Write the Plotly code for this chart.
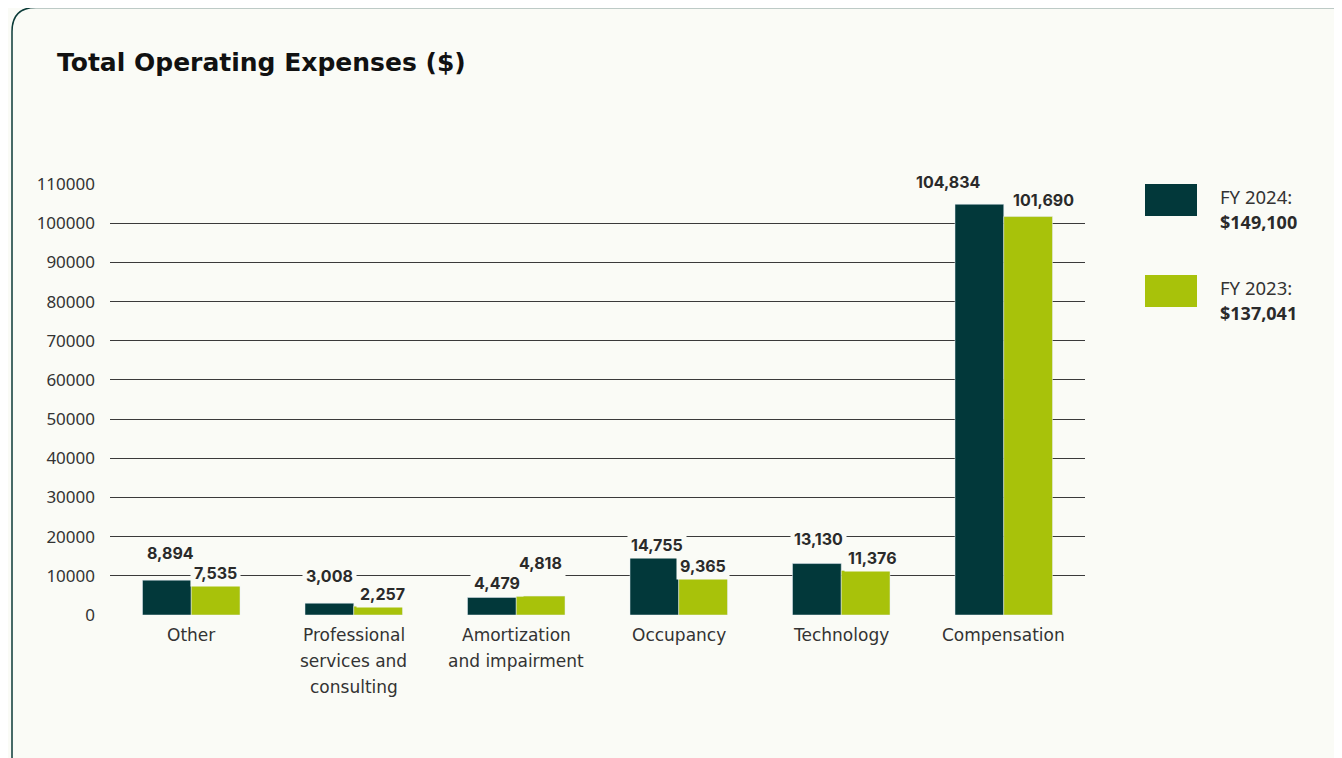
import plotly.graph_objects as go

categories = ["Other", "Professional services and consulting", "Amortization and impairment",
              "Occupancy", "Technology", "Compensation"]
category_label_lines = [["Other"], ["Professional", "services and", "consulting"],
                        ["Amortization", "and impairment"], ["Occupancy"], ["Technology"], ["Compensation"]]
fy2024 = [8894, 3008, 4479, 14755, 13130, 104834]
fy2023 = [7535, 2257, 4818, 9365, 11376, 101690]
series_names = ["FY 2024:", "FY 2023:"]
series_totals = ["$149,100", "$137,041"]
y_ticks = list(range(0, 110001, 10000))

# label nudges (px) used to avoid collisions: (dx, dy above bar top)
shift_2024 = [(4, 27), (0, 27), (5, 14), (3, 12), (2, 25), (-31, 22)]
shift_2023 = [(0, 12), (4, 12), (0, 33), (0, 12), (7, 12), (15, 17)]

BG = "#fafbf6"
DARK = "#02383a"
GREEN = "#a8c20a"
GRID = "#3a3a3a"

OFF = 8  # default page body margin
W, H = 1342 - OFF, 758 - OFF
ML, MT = 110 - OFF, 184 - OFF
PW, PH = 975, 431
MR, MB = W - ML - PW, H - MT - PH


def px_x(px):  # page pixel -> paper
    return (px - OFF - ML) / PW


def px_y(py):
    return (MT + PH - (py - OFF)) / PH


fig = go.Figure()
fig.add_trace(go.Bar(x=categories, y=fy2024, marker_color=DARK, name=series_names[0],
                     showlegend=False))
fig.add_trace(go.Bar(x=categories, y=fy2023, marker_color=GREEN, name=series_names[1],
                     showlegend=False))

half = PW / len(categories) * 0.6 / 4  # half of one bar width in px
annotations = []
for vals, shifts, side in ((fy2024, shift_2024, -1), (fy2023, shift_2023, 1)):
    for cat, v, (dx, dy) in zip(categories, vals, shifts):
        annotations.append(dict(
            x=cat, y=v, xref="x", yref="y", text=f"{v:,}", showarrow=False,
            xshift=side * half + dx, yshift=dy, yanchor="middle", xanchor="center",
            font=dict(family="Inter, Lato, sans-serif", size=16, color="#2a2a2a", weight="bold"),
            bgcolor=BG, borderpad=3,
        ))

# category labels (one annotation per line for the wider line spacing)
for cat, lines in zip(categories, category_label_lines):
    for i, line in enumerate(lines):
        annotations.append(dict(
            x=cat, y=0, xref="x", yref="y", text=line, showarrow=False,
            xanchor="center", yanchor="middle", yshift=-(20 + 26 * i),
            font=dict(family="DejaVu Sans, sans-serif", size=17, color="#333333"),
        ))

# title
annotations.append(dict(
    x=px_x(55), y=px_y(63), xref="paper", yref="paper", xanchor="left", yanchor="middle",
    text="<b>Total Operating Expenses ($)</b>", showarrow=False,
    font=dict(family="DejaVu Sans, sans-serif", size=25, color="#111111"),
))

# custom legend
shapes = []
leg_tops = [184, 275]
for top, name, total, col in zip(leg_tops, series_names, series_totals, [DARK, GREEN]):
    shapes.append(dict(type="rect", xref="paper", yref="paper",
                       x0=px_x(1145), x1=px_x(1197), y0=px_y(top), y1=px_y(top + 32),
                       fillcolor=col, line=dict(width=0)))
    annotations.append(dict(
        x=px_x(1218), y=px_y(top + 12), xref="paper", yref="paper", xanchor="left", yanchor="middle",
        text=name, showarrow=False, font=dict(family="Noto Sans, sans-serif", size=18.5, color="#333333")))
    annotations.append(dict(
        x=px_x(1218), y=px_y(top + 38), xref="paper", yref="paper", xanchor="left", yanchor="middle",
        text=f"<b>{total}</b>", showarrow=False, font=dict(family="Noto Sans, sans-serif", size=18, color="#2a2a2a")))

# rounded card border
L, T, R, B, r = 12, 7.5, 1420, 780, 24
path = (f"M {px_x(L)},{px_y(T + r)} Q {px_x(L)},{px_y(T)} {px_x(L + r)},{px_y(T)} "
        f"L {px_x(R - r)},{px_y(T)} Q {px_x(R)},{px_y(T)} {px_x(R)},{px_y(T + r)} "
        f"L {px_x(R)},{px_y(B - r)} Q {px_x(R)},{px_y(B)} {px_x(R - r)},{px_y(B)} "
        f"L {px_x(L + r)},{px_y(B)} Q {px_x(L)},{px_y(B)} {px_x(L)},{px_y(B - r)} Z")
shapes.append(dict(type="path", path=path, xref="paper", yref="paper",
                   line=dict(color="#0b3b38", width=1.5), fillcolor="rgba(0,0,0,0)", layer="below"))

fig.update_layout(
    width=W, height=H,
    margin=dict(l=ML, r=MR, t=MT, b=MB),
    paper_bgcolor=BG, plot_bgcolor=BG,
    barmode="group", bargap=0.4, bargroupgap=0,
    annotations=annotations, shapes=shapes,
    xaxis=dict(categoryorder="array", categoryarray=categories, showticklabels=False,
               showgrid=False, zeroline=False, showline=False, ticks=""),
    yaxis=dict(range=[0, 110000], tickvals=y_ticks, ticktext=[str(t) for t in y_ticks],
               showgrid=True, gridcolor=GRID, gridwidth=1, zeroline=False, showline=False,
               ticks="", ticklabelstandoff=14,
               tickfont=dict(family="Noto Sans, sans-serif", size=17, color="#333333")),
    font=dict(family="Noto Sans, sans-serif"),
)

fig.write_html("out.html")
